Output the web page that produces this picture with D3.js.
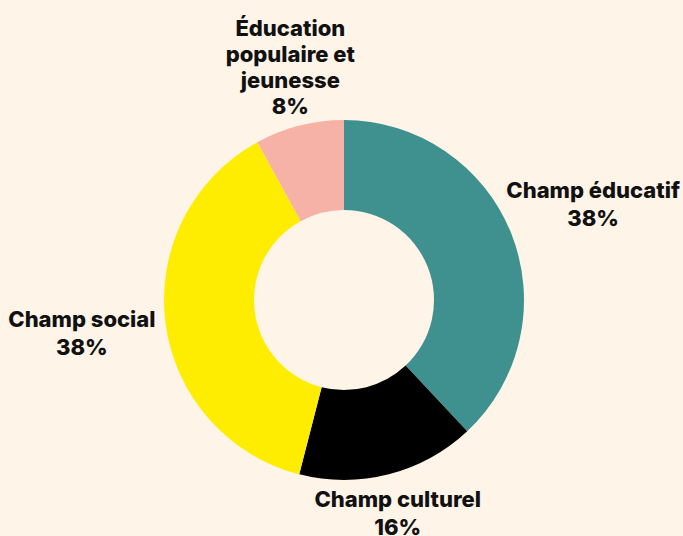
<!DOCTYPE html>
<html><head><meta charset="utf-8">
<script src="https://cdn.jsdelivr.net/npm/d3@7"></script>
<style>
html,body{margin:0;padding:0;background:#fef4e7;}
svg{display:block;}
text{font-family:Inter,"DejaVu Sans",sans-serif;font-weight:800;fill:#111;}
</style></head>
<body><svg id="c" width="683" height="536"></svg>
<script>
const categories = ["Champ éducatif", "Champ culturel", "Champ social", "Éducation populaire et jeunesse"];
const labelLines = [["Champ éducatif"], ["Champ culturel"], ["Champ social"], ["Éducation", "populaire et", "jeunesse"]];
const values = [38, 16, 38, 8];
const colors = ["#3f9190", "#000000", "#ffed00", "#f7b2a7"];

const W = 683, H = 536;
const cx = 344, cy = 300, R = 180, r = 90;
const svg = d3.select("#c");
const g = svg.append("g").attr("transform", `translate(${cx},${cy})`);

const pie = d3.pie().value(d => d).sort(null);
const arcs = pie(values);
const arc = d3.arc().innerRadius(r).outerRadius(R);
const color = d3.scaleOrdinal().domain(categories).range(colors);

g.selectAll("path").data(arcs).enter().append("path")
  .attr("d", arc)
  .attr("fill", (d, i) => color(categories[i]));

// label layout: centroid at radius 240 plus nudge so text blocks sit beside the ring
const labelArc = d3.arc().innerRadius(240).outerRadius(240);
const nudges = [[26, -14], [-6, -25], [-24, -3], [6, -32]];
arcs.forEach((a, i) => {
  const [x, y] = labelArc.centroid(a);
  const lines = labelLines[i].concat([values[i] + "%"]);
  const lineH = i === 3 ? 26.3 : 28;
  const t = g.append("text")
    .attr("text-anchor", "middle")
    .attr("font-size", 22)
    .attr("x", x + nudges[i][0])
    .attr("y", y + nudges[i][1]);
  lines.forEach((ln, j) => {
    t.append("tspan").attr("x", x + nudges[i][0]).attr("dy", j === 0 ? 0 : lineH).text(ln);
  });
});
</script></body></html>
